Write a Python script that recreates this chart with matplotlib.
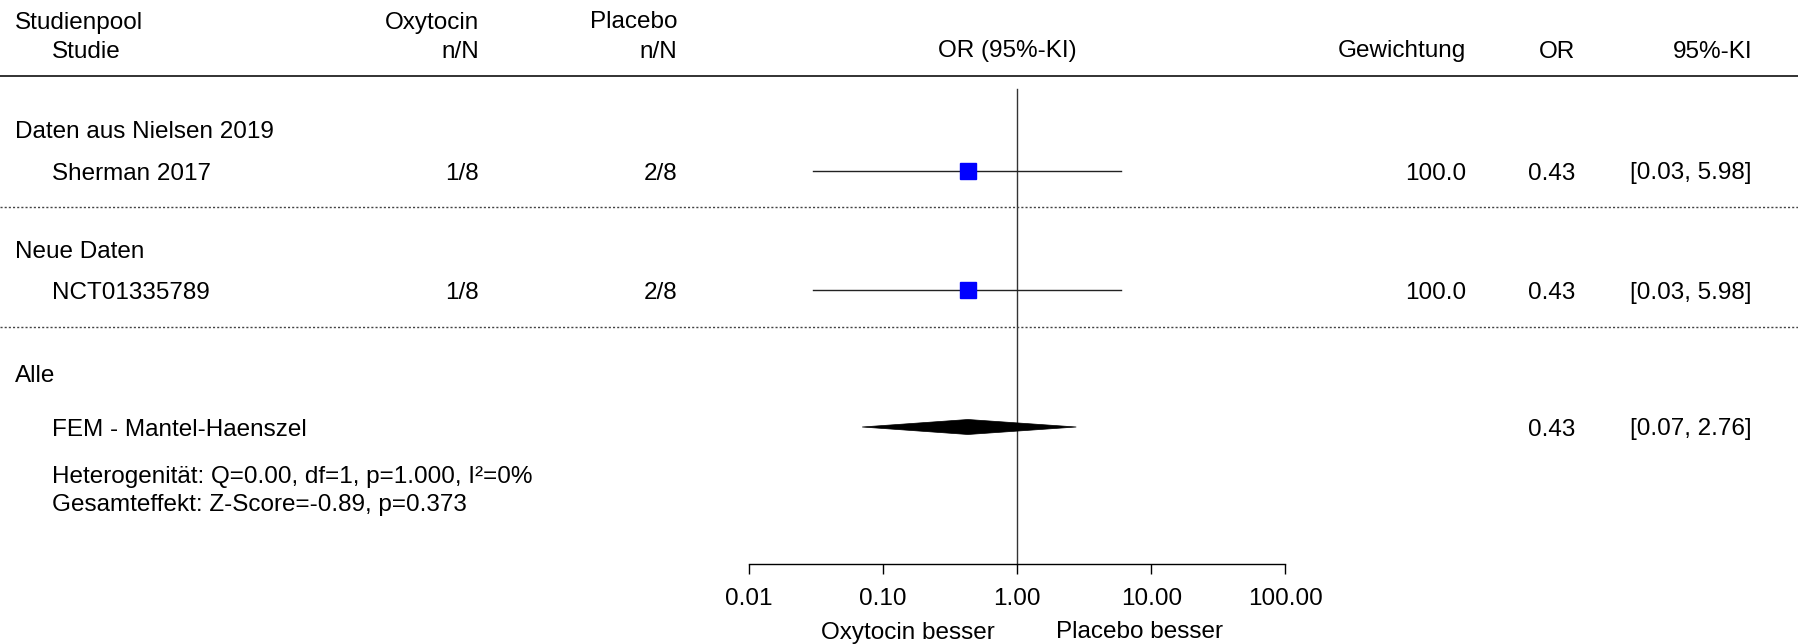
import matplotlib
matplotlib.use("Agg")
import matplotlib.pyplot as plt
from matplotlib.lines import Line2D
from matplotlib.patches import Polygon
import numpy as np

plt.rcParams['font.family'] = ['Liberation Sans', 'DejaVu Sans']

# ---------------- data ----------------
groups = ["Daten aus Nielsen 2019", "Neue Daten"]
studies = ["Sherman 2017", "NCT01335789"]
oxy_nN = ["1/8", "1/8"]
pla_nN = ["2/8", "2/8"]
study_or = [0.43, 0.43]
study_lo = [0.03, 0.03]
study_hi = [5.98, 5.98]
weights = ["100.0", "100.0"]
pooled_label = "FEM - Mantel-Haenszel"
pooled_or = 0.43
pooled_lo = 0.07
pooled_hi = 2.76
het_text = "Heterogenität: Q=0.00, df=1, p=1.000, I²=0%"
eff_text = "Gesamteffekt: Z-Score=-0.89, p=0.373"
xticks = [0.01, 0.1, 1, 10, 100]
xticklabels = ["0.01", "0.10", "1.00", "10.00", "100.00"]

# ---------------- layout (pixels) ----------------
W, H = 1798, 644
fig = plt.figure(figsize=(W / 100, H / 100), dpi=100)
FS = 17.5
DY = 2.5  # text vertical offset

ax_left_px, ax_right_px = 748.8, 1285.4
axis_y = 564
top_y = 75
ax = fig.add_axes([ax_left_px / W, 1 - axis_y / H,
                   (ax_right_px - ax_left_px) / W, (axis_y - top_y) / H])
ax.set_xscale('log')
ax.set_xlim(0.01, 100)
ax.set_ylim(axis_y, top_y)
for s in ['top', 'right', 'left']:
    ax.spines[s].set_visible(False)
ax.spines['bottom'].set_linewidth(1.0)
ax.set_yticks([])
ax.set_xticks(xticks)
ax.set_xticklabels(xticklabels, fontsize=FS)
ax.xaxis.set_minor_locator(matplotlib.ticker.NullLocator())
ax.tick_params(axis='x', direction='out', length=7, width=1.0, pad=10)
ax.patch.set_alpha(0)

# reference line at 1
ax.plot([1, 1], [89, axis_y], color='#333333', lw=1.0, clip_on=False)

def fy(y):
    return 1 - y / H

def ftext(x, y, s, ha='left', **kw):
    fig.text(x / W, fy(y + DY), s, ha=ha, va='center', fontsize=FS, **kw)

# header
ftext(15, 20, "Studienpool")
ftext(52, 49, "Studie")
ftext(479, 20, "Oxytocin", ha='right')
ftext(479, 49, "n/N", ha='right')
ftext(677, 20, "Placebo", ha='right')
ftext(677, 49, "n/N", ha='right')
ftext(1007, 49, "OR (95%-KI)", ha='center')
ftext(1466, 49, "Gewichtung", ha='right')
ftext(1575, 49, "OR", ha='right')
ftext(1752, 49, "95%-KI", ha='right')
fig.add_artist(Line2D([0, 1], [fy(75.5), fy(75.5)], color='#222222', lw=1.3))

group_y = [129.5, 249]
study_y = [171, 290]
sep_y = [206.5, 327]

for i in range(len(studies)):
    ftext(15, group_y[i], groups[i])
    ftext(52, study_y[i], studies[i])
    ftext(479, study_y[i], oxy_nN[i], ha='right')
    ftext(677, study_y[i], pla_nN[i], ha='right')
    ftext(1466, study_y[i], weights[i], ha='right')
    ftext(1575, study_y[i], f"{study_or[i]:.2f}", ha='right')
    ftext(1752, study_y[i], f"[{study_lo[i]:.2f}, {study_hi[i]:.2f}]", ha='right')
    ax.plot([study_lo[i], study_hi[i]], [study_y[i], study_y[i]],
            color='#222222', lw=1.0, clip_on=False)
    ax.plot([study_or[i]], [study_y[i]], marker='s', ms=11.5,
            color='#0000FF', mec='#0000FF', clip_on=False, zorder=3)
    fig.add_artist(Line2D([0, 1], [fy(sep_y[i]), fy(sep_y[i])],
                          color='#444444', lw=1.0, ls=(0, (1.5, 1.5))))

# pooled
ftext(15, 373, "Alle")
pool_y = 427
ftext(52, pool_y, pooled_label)
ftext(1575, pool_y, f"{pooled_or:.2f}", ha='right')
ftext(1752, pool_y, f"[{pooled_lo:.2f}, {pooled_hi:.2f}]", ha='right')
hh = 7.5
diamond = Polygon([[pooled_lo, pool_y], [pooled_or, pool_y - hh],
                   [pooled_hi, pool_y], [pooled_or, pool_y + hh]],
                  closed=True, facecolor='black', edgecolor='black',
                  lw=0.5, clip_on=False, zorder=3)
ax.add_patch(diamond)

ftext(52, 474, het_text)
ftext(52, 502, eff_text)

# direction labels
ftext(908, 630, "Oxytocin besser", ha='center')
ftext(1139, 630, "Placebo besser", ha='center')

fig.savefig("out.png", dpi=100)
